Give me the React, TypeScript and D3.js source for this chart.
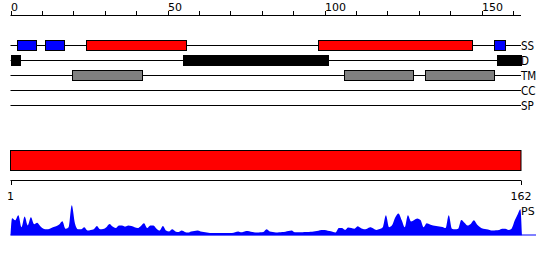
import React from "react";
import * as d3 from "d3";

const SEQ_LENGTH = 162;
const topTicks = [0, 10, 20, 30, 40, 50, 60, 70, 80, 90, 100, 110, 120, 130, 140, 150, 160];
const topTickLabels = [0, 50, 100, 150];
const trackNames = ["SS", "D", "TM", "CC", "SP"];

// [start, end, color]
const ssSegments: [number, number, string][] = [
  [2, 8, "#0000ff"],
  [11, 17, "#0000ff"],
  [24, 56, "#ff0000"],
  [98, 147, "#ff0000"],
  [154, 157.3, "#0000ff"],
];
const dSegments: [number, number, string][] = [
  [0, 3, "#000000"],
  [55, 101, "#000000"],
  [155, 162.5, "#000000"],
];
const tmSegments: [number, number, string][] = [
  [19.7, 42, "#808080"],
  [106, 128, "#808080"],
  [132, 154, "#808080"],
];
const ccSegments: [number, number, string][] = [];
const spSegments: [number, number, string][] = [];
const trackSegments = [ssSegments, dSegments, tmSegments, ccSegments, spSegments];

const bottomTickLabels = [1, 162];

// per-residue score (0..100)
const psScores = [
  57, 50, 67, 27, 63, 33, 60, 37, 42, 30,
  22, 20, 22, 27, 30, 36, 47, 22, 27, 100,
  40, 20, 20, 27, 16, 18, 20, 31, 20, 21,
  27, 38, 29, 24, 33, 33, 29, 33, 31, 27,
  24, 31, 40, 24, 33, 33, 22, 16, 31, 16,
  13, 20, 13, 11, 16, 11, 9, 13, 14, 16,
  13, 11, 9, 8, 8, 8, 8, 8, 8, 8,
  8, 10, 13, 10, 13, 14, 12, 10, 9, 10,
  11, 20, 13, 11, 9, 10, 11, 12, 14, 16,
  10, 10, 10, 11, 11, 12, 13, 14, 17, 18,
  17, 14, 12, 9, 24, 24, 18, 26, 24, 22,
  30, 24, 20, 22, 27, 23, 18, 21, 27, 67,
  27, 34, 60, 73, 51, 27, 67, 46, 51, 56,
  51, 27, 40, 36, 33, 31, 29, 28, 24, 67,
  22, 20, 22, 51, 42, 33, 38, 50, 36, 27,
  22, 20, 18, 16, 17, 18, 22, 22, 18, 22,
  49, 71,
];
const psEndScore = 87;

export default function App() {
  const font = "'DejaVu Sans', sans-serif";
  const x = d3.scaleLinear().domain([0, 162.5]).range([10.5, 521]);
  const xb = d3.scaleLinear().domain([1, SEQ_LENGTH]).range([10.5, 521]);
  const y = d3.scaleLinear().domain([0, 100]).range([235.3, 205.3]);

  const pts: [number, number][] = [[0, 0]];
  psScores.forEach((v, i) => pts.push([i + 0.5, v]));
  pts.push([162.3, psEndScore]);
  pts.push([162.8, 0]);

  const area = d3
    .area<[number, number]>()
    .x((d) => x(d[0]))
    .y0(y(0))
    .y1((d) => y(d[1]))
    .curve(d3.curveMonotoneX);

  const trackY = (i: number) => 45.5 + i * 15;

  return (
    <svg
      width={550}
      height={260}
      style={{ position: "absolute", left: 0, top: 0, background: "#fff" }}
      fontFamily={font}
    >
      {/* top axis */}
      <line x1={x(0)} x2={x(162.5)} y1={15.5} y2={15.5} stroke="#000" />
      {topTicks.map((t) => (
        <line key={t} x1={Math.round(x(t)) + 0.5} x2={Math.round(x(t)) + 0.5} y1={11} y2={15.5} stroke="#000" />
      ))}
      {topTickLabels.map((t) => (
        <text key={t} x={Math.round(x(t))} y={10.5} fontSize={11} fill="#000">
          {t}
        </text>
      ))}

      {/* tracks */}
      {trackNames.map((name, i) => (
        <g key={name}>
          <line x1={x(0)} x2={x(162.5)} y1={trackY(i)} y2={trackY(i)} stroke="#000" />
          {trackSegments[i].map(([s, e, c], j) => (
            <rect
              key={j}
              x={Math.round(x(s)) + 0.5}
              y={trackY(i) - 5}
              width={Math.round(x(e)) - Math.round(x(s))}
              height={10}
              fill={c}
              stroke="#000"
            />
          ))}
          <text
            x={521}
            y={trackY(i) + 4}
            fontSize={11.5}
            fill="#000"
            style={{ fontStretch: "condensed" }}
            fontFamily="'DejaVu Sans Condensed', 'DejaVu Sans', sans-serif"
          >
            {name}
          </text>
        </g>
      ))}

      {/* full-length bar */}
      <rect x={x(0)} y={150.5} width={x(162.5) - x(0)} height={20} fill="#ff0000" stroke="#000" />

      {/* bottom axis */}
      <line x1={xb(1)} x2={xb(SEQ_LENGTH)} y1={180.5} y2={180.5} stroke="#000" />
      {bottomTickLabels.map((t) => (
        <g key={t}>
          <line x1={Math.round(xb(t)) + 0.5} x2={Math.round(xb(t)) + 0.5} y1={180.5} y2={185} stroke="#000" />
          <text x={xb(t)} y={200} fontSize={11} textAnchor="middle" fill="#000">
            {t}
          </text>
        </g>
      ))}

      {/* PS profile */}
      <line x1={x(0)} x2={536} y1={235} y2={235} stroke="#0000ff" />
      <path d={area(pts) || ""} fill="#0000ff" />
      <text x={521} y={215} fontSize={11} fill="#000">
        PS
      </text>
    </svg>
  );
}
